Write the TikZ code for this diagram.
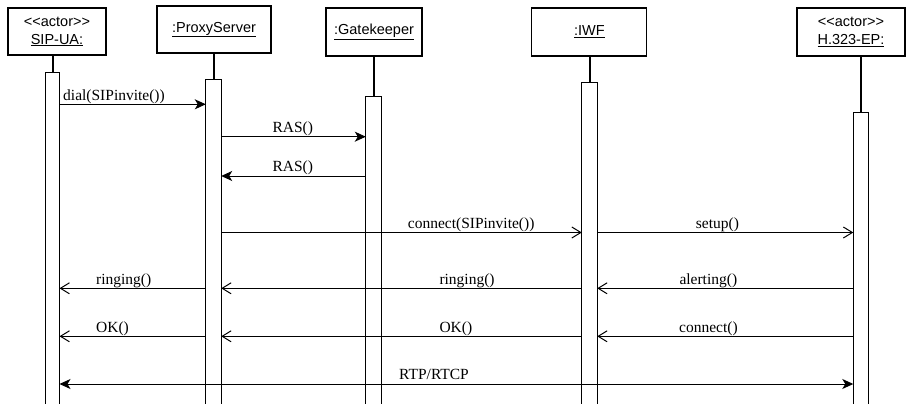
\documentclass[tikz,border=0pt]{standalone}
\usepackage{fontspec}
\setmainfont{Liberation Serif}
\newfontfamily\arialf{Liberation Sans}
\usetikzlibrary{arrows.meta}
\tikzset{
  head/.style={draw, line width=1.2pt, rectangle, inner sep=0pt, align=center,
    font=\arialf\fontsize{14.5}{18}\selectfont},
  act/.style={rectangle, draw=none, anchor=north, inner sep=0pt, minimum width=15pt},
  actline/.style={line width=1pt},
  life/.style={line width=2pt},
  msgf/.style={line width=1pt, -{Stealth[length=11pt,width=10pt,inset=3pt]}},
  msgo/.style={line width=1pt, -{Straight Barb[length=9pt,width=11pt]}},
  msgb/.style={line width=1pt, {Stealth[length=11pt,width=10pt,inset=3pt]}-{Stealth[length=11pt,width=10pt,inset=3pt]}},
  lbl/.style={anchor=base west, inner sep=0pt, font=\fontsize{15.5}{18}\selectfont}
}
\begin{document}
\begin{tikzpicture}[x=1pt,y=-1pt]
\useasboundingbox (0,0) rectangle (906,404);
% heads
\node[head, minimum width=98pt, minimum height=47pt] (ua) at (57,31.5) {\textless\textless actor\textgreater\textgreater\\\underline{SIP-UA:}};
\node[head, minimum width=114pt, minimum height=47pt] (ps) at (214,29.5) {\underline{:ProxyServer}};
\node[head, minimum width=96pt, minimum height=48pt] (gk) at (374,32) {\underline{:Gatekeeper}};
\node[head, minimum width=115pt, minimum height=48pt] (iwf) at (589.3,32) {\underline{:IWF}};
\node[head, minimum width=108pt, minimum height=48pt] (ep) at (851,32) {\textless\textless actor\textgreater\textgreater\\\underline{H.323-EP:}};
% activations
\node[act, minimum width=13.6pt, minimum height=331.3pt] (uaA) at (52.5,72.7) {};
\node[act, minimum height=324pt] (psA) at (213.5,80) {};
\node[act, minimum height=307.3pt] (gkA) at (373.5,96.7) {};
\node[act, minimum height=321pt] (iwfA) at (589.5,83) {};
\node[act, minimum height=291.7pt] (epA) at (861,112.3) {};
\foreach \a in {uaA,psA,gkA,iwfA,epA}{
  \draw[actline] (\a.south west) -- (\a.north west) -- (\a.north east) -- (\a.south east);
}
% lifeline stubs
\draw[life] (ua.south -| uaA.north) -- (uaA.north);
\draw[life] (ps.south -| psA.north) -- (psA.north);
\draw[life] (gk.south -| gkA.north) -- (gkA.north);
\draw[life] (iwf.south -| iwfA.north) -- (iwfA.north);
\draw[life] (ep.south -| epA.north) -- (epA.north);
% message rows
\coordinate (r1) at (0,104.3);
\coordinate (r2) at (0,136.7);
\coordinate (r3) at (0,176);
\coordinate (r4) at (0,232.5);
\coordinate (r5) at (0,288.3);
\coordinate (r6) at (0,336.3);
\coordinate (r7) at (0,384);
% messages
\draw[msgf] (uaA.east |- r1) -- (psA.west |- r1);
\draw[msgf] (psA.east |- r2) -- (gkA.west |- r2);
\draw[msgf] (gkA.west |- r3) -- (psA.east |- r3);
\draw[msgo] (psA.east |- r4) -- (iwfA.west |- r4);
\draw[msgo] (iwfA.east |- r4) -- (epA.west |- r4);
\draw[msgo] (psA.west |- r5) -- (uaA.east |- r5);
\draw[msgo] (iwfA.west |- r5) -- (psA.east |- r5);
\draw[msgo] (epA.west |- r5) -- (iwfA.east |- r5);
\draw[msgo] (psA.west |- r6) -- (uaA.east |- r6);
\draw[msgo] (iwfA.west |- r6) -- (psA.east |- r6);
\draw[msgo] (epA.west |- r6) -- (iwfA.east |- r6);
\draw[msgb] (uaA.east |- r7) -- (epA.west |- r7);
% labels
\node[lbl] (t1) at (63,100) {dial(SIPinvite())};
\node[lbl] (t2) at (272.3,132.4) {RAS()};
\node[lbl] (t3) at (272.3,171.7) {RAS()};
\node[lbl] (t4) at (407.7,228.2) {connect(SIPinvite())};
\node[lbl] (t5) at (695.7,228.2) {setup()};
\node[lbl] (t6) at (96,284) {ringing()};
\node[lbl] (t7) at (439.3,284) {ringing()};
\node[lbl] (t8) at (679.3,284) {alerting()};
\node[lbl] (t9) at (96,332) {OK()};
\node[lbl] (t10) at (439.3,332) {OK()};
\node[lbl] (t11) at (679,332) {connect()};
\node[lbl] (t12) at (399,379.8) {RTP/RTCP};
\end{tikzpicture}
\end{document}
